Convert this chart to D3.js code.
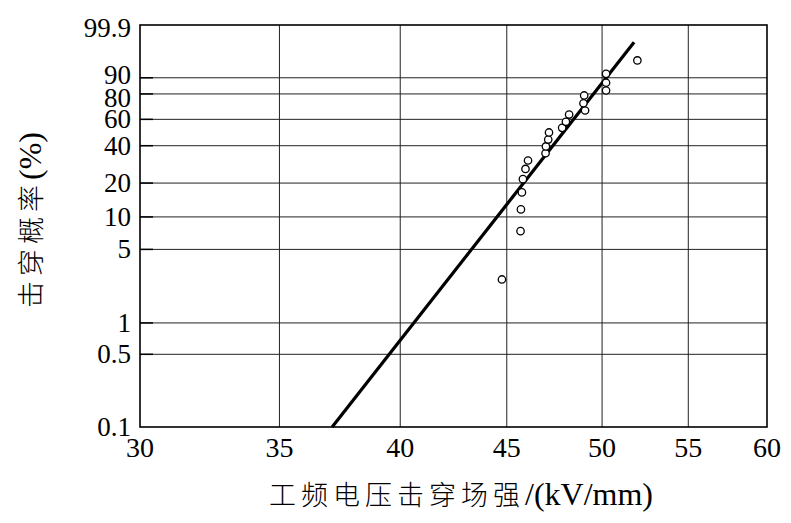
<!DOCTYPE html>
<html>
<head>
<meta charset="utf-8">
<script src="https://cdn.jsdelivr.net/npm/d3@7"></script>
<style>
  html, body { margin: 0; padding: 0; background: #fff; }
  svg { display: block; }
</style>
</head>
<body>
<svg id="chart" width="791" height="523"></svg>
<script>
// ---- data ----
const strength = [44.76, 45.69, 45.71, 45.76, 45.81, 45.94, 46.07, 46.97, 46.99, 47.11, 47.15,
                  47.84, 48.04, 48.21, 49.07, 48.98, 49.02, 50.22, 50.22, 50.22, 51.99];
const probability = [2.6, 7.4, 11.7, 16.6, 21.6, 26.3, 30.8, 35.1, 39.5, 44.3, 49.6,
                     53.2, 58.0, 63.9, 67.2, 73.0, 78.9, 82.4, 87.3, 91.9, 96.6];
const fitStrength = [37.1, 51.8];
const fitProbability = [0.1, 99.37];
const xTicks = [30, 35, 40, 45, 50, 55, 60];
const yTicks = [0.1, 0.5, 1, 5, 10, 20, 40, 60, 80, 90, 99.9];
const yTickLabels = ["0.1", "0.5", "1", "5", "10", "20", "40", "60", "80", "90", "99.9"];
const xTitleCJK = "工频电压击穿场强";
const xTitleLatin = "/(kV/mm)";
const yTitleCJK = "击穿概率";
const yTitleLatin = "(%)";

// ---- layout ----
const L = 140, R = 767, T = 25, B = 427;
const svg = d3.select("#chart");

// Weibull probability transform
const W = p => Math.log(-Math.log(1 - p / 100));

const x = d3.scaleLog().domain([30, 60]).range([L, R]);
const yW = d3.scaleLinear().domain([W(0.1), W(99.94)]).range([B, T]);
const y = p => yW(W(p));

const serif = "'Liberation Serif', 'Times New Roman', serif";
const cjk = "'Noto Sans CJK SC', 'Noto Sans CJK TC', sans-serif";

// gridlines
const g = svg.append("g");
g.selectAll("line.hg")
  .data(yTicks.filter(v => v > 0.1 && v < 99.9))
  .join("line")
  .attr("x1", L).attr("x2", R)
  .attr("y1", d => y(d)).attr("y2", d => y(d))
  .attr("stroke", "#222").attr("stroke-width", 1);
g.selectAll("line.vg")
  .data(xTicks.filter(v => v > 30 && v < 60))
  .join("line")
  .attr("y1", T).attr("y2", B)
  .attr("x1", d => x(d)).attr("x2", d => x(d))
  .attr("stroke", "#222").attr("stroke-width", 1);

// inward ticks on left axis
g.selectAll("line.lt")
  .data(yTicks.filter(v => v > 0.1 && v < 99.9))
  .join("line")
  .attr("x1", L).attr("x2", L + 13)
  .attr("y1", d => y(d)).attr("y2", d => y(d))
  .attr("stroke", "#000").attr("stroke-width", 1.5);

// frame
svg.append("rect")
  .attr("x", L).attr("y", T).attr("width", R - L).attr("height", B - T)
  .attr("fill", "none").attr("stroke", "#000").attr("stroke-width", 1.6);

// y tick labels
const yNudge = {80: 4.5, 90: -3};
svg.append("g").selectAll("text")
  .data(yTicks)
  .join("text")
  .attr("x", 131)
  .attr("y", (d) => y(d) + (yNudge[d] || 0))
  .attr("dy", "0.33em")
  .attr("text-anchor", "end")
  .attr("font-family", serif)
  .attr("font-size", 27)
  .attr("fill", "#000")
  .text((d, i) => yTickLabels[i]);

// x tick labels
svg.append("g").selectAll("text")
  .data(xTicks)
  .join("text")
  .attr("x", d => x(d))
  .attr("y", 457)
  .attr("text-anchor", "middle")
  .attr("font-family", serif)
  .attr("font-size", 28)
  .attr("fill", "#000")
  .text(d => d);

// fitted line
const lineData = fitStrength.map((s, i) => [s, fitProbability[i]]);
svg.append("path")
  .datum(lineData)
  .attr("d", d3.line().x(d => x(d[0])).y(d => y(d[1])))
  .attr("stroke", "#000").attr("stroke-width", 3.2).attr("fill", "none");

// data points
svg.append("g").selectAll("circle")
  .data(strength.map((s, i) => [s, probability[i]]))
  .join("circle")
  .attr("cx", d => x(d[0]))
  .attr("cy", d => y(d[1]))
  .attr("r", 3.7)
  .attr("fill", "#fff")
  .attr("stroke", "#000")
  .attr("stroke-width", 1.3);

// x title
const xt = svg.append("text")
  .attr("x", 461).attr("y", 505)
  .attr("text-anchor", "middle")
  .attr("fill", "#000");
xt.append("tspan").attr("font-family", cjk).attr("font-size", 27).attr("font-weight", 300)
  .attr("letter-spacing", 5).text(xTitleCJK);
xt.append("tspan").attr("font-family", serif).attr("font-size", 32).text(xTitleLatin);

// y title
const yt = svg.append("text")
  .attr("transform", "translate(41,220) rotate(-90)")
  .attr("text-anchor", "middle")
  .attr("fill", "#000");
yt.append("tspan").attr("font-family", cjk).attr("font-size", 27).attr("font-weight", 300)
  .attr("letter-spacing", 5).text(yTitleCJK);
yt.append("tspan").attr("font-family", serif).attr("font-size", 32).text(yTitleLatin);
</script>
</body>
</html>
